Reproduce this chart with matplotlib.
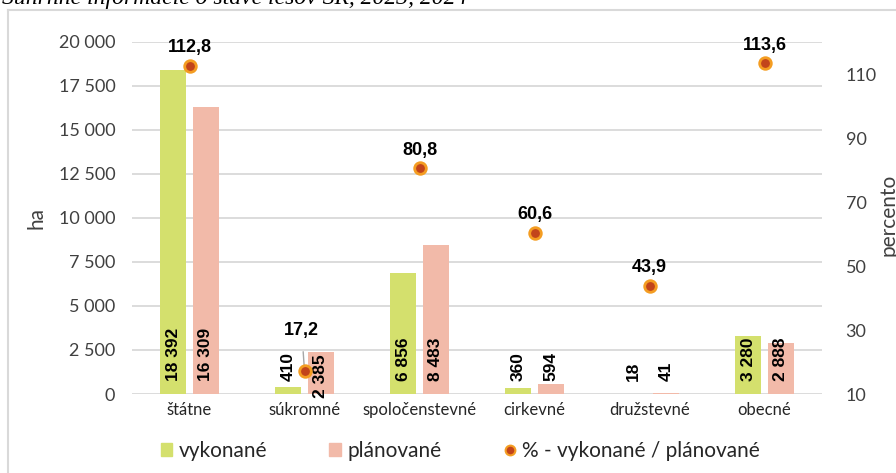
import matplotlib
matplotlib.use("Agg")
import matplotlib.pyplot as plt
import numpy as np
from matplotlib.lines import Line2D
from matplotlib.patches import Patch

categories = ["štátne", "súkromné", "spoločenstevné", "cirkevné", "družstevné", "obecné"]
vykonane = [18392, 410, 6856, 360, 18, 3280]
planovane = [16309, 2385, 8483, 594, 41, 2888]
percento = [112.8, 17.2, 80.8, 60.6, 43.9, 113.6]

green = "#D4E06D"
pink = "#F2BAA9"
dot_face = "#C2441B"
dot_edge = "#F49D22"
grid_col = "#D9D9D9"

plt.rcParams["font.family"] = ["Lato", "DejaVu Sans"]

fig = plt.figure(figsize=(8.96, 4.73), dpi=100)
ax = fig.add_axes([132 / 896, 1 - 394 / 473, 690 / 896, 352 / 473])
ax2 = ax.twinx()

x = np.arange(len(categories))
w = 0.226
off = 0.143
ax.bar(x - off, vykonane, w, color=green, zorder=2)
ax.bar(x + off, planovane, w, color=pink, zorder=2)

def fmt(v):
    return f"{v:,}".replace(",", " ")

# value labels inside the bar bases
for i in range(len(categories)):
    ax.annotate(fmt(vykonane[i]), (x[i] - off, 0), xytext=(0, 9.5), textcoords="offset points",
                rotation=90, ha="center", va="bottom", fontsize=12.5, fontweight="bold",
                family="Liberation Sans", zorder=4)
    dy = -3 if categories[i] == "súkromné" else 9.5
    ax.annotate(fmt(planovane[i]), (x[i] + off, 0), xytext=(0, dy), textcoords="offset points",
                rotation=90, ha="center", va="bottom", fontsize=12.5, fontweight="bold",
                family="Liberation Sans", zorder=4)

ax.set_xlim(-0.5, 5.5)
ax.set_ylim(0, 20000)
ax.set_yticks(np.arange(0, 20001, 2500))
ax.set_yticklabels([fmt(v) for v in range(0, 20001, 2500)], fontsize=13, color="#404040")
ax.set_xticks(x)
ax.set_xticklabels(categories, fontsize=12, color="#262626")
ax.yaxis.grid(True, color=grid_col, linewidth=1.3, zorder=0)
ax.set_axisbelow(True)
ax.tick_params(axis="both", length=0)
ax.tick_params(axis="y", pad=12)
ax.tick_params(axis="x", pad=6)
for s in ax.spines.values():
    s.set_visible(False)

ax2.scatter(x, percento, s=70, color=dot_face, edgecolors=dot_edge, linewidths=2, zorder=5)
ax2.set_ylim(10, 120.3)
ax2.set_yticks(np.arange(10, 111, 20))
ax2.tick_params(axis="y", length=0, labelsize=13, labelcolor="#404040", pad=17)
for s in ax2.spines.values():
    s.set_visible(False)

for i, p in enumerate(percento):
    lab = f"{p:.1f}".replace(".", ",")
    if categories[i] == "súkromné":
        ax2.annotate(lab, (x[i], p), xytext=(-2, 29), textcoords="offset points",
                     ha="center", va="center", fontsize=13, fontweight="bold",
                     family="Liberation Sans",
                     arrowprops=dict(arrowstyle="-", color="#A6A6A6", lw=1,
                                     shrinkA=7, shrinkB=3))
    else:
        ax2.annotate(lab, (x[i], p), xytext=(0, 13), textcoords="offset points",
                     ha="center", va="center", fontsize=13, fontweight="bold",
                     family="Liberation Sans")

fig.text(36 / 896, 1 - 218 / 473, "ha", rotation=90, ha="center", va="center",
         fontsize=15, color="#404040")
fig.text(888 / 896, 1 - 215 / 473, "percento", rotation=90, ha="center", va="center",
         fontsize=15, color="#404040")

handles = [Patch(color=green), Patch(color=pink),
           Line2D([], [], marker="o", linestyle="none", markersize=7,
                  markerfacecolor=dot_face, markeredgecolor=dot_edge, markeredgewidth=1.5)]
fig.legend(handles, ["vykonané", "plánované", "% - vykonané / plánované"],
           loc="center", bbox_to_anchor=(460 / 896, 1 - 451 / 473), ncol=3,
           frameon=False, fontsize=15, handlelength=0.55, handleheight=0.55,
           handletextpad=0.3, columnspacing=3.0, labelcolor="#262626")

# chart frame and heading cut at the top edge
fig.add_artist(Line2D([8 / 896, 8 / 896], [0, 1 - 10 / 473], color=grid_col, lw=1.5))
fig.add_artist(Line2D([8 / 896, 1], [1 - 10 / 473, 1 - 10 / 473], color=grid_col, lw=1.5))
fig.text(2 / 896, 1 - 4 / 473, "Súhrnné informácie o stave lesov SR, 2023, 2024",
         family="Liberation Serif", style="italic", fontsize=17, ha="left", va="baseline")

fig.savefig("out.png", dpi=100)
